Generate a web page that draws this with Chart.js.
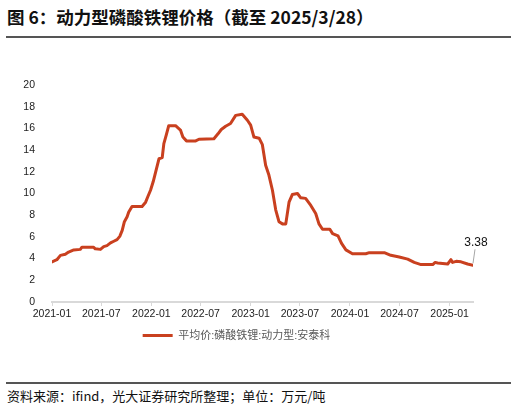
<!DOCTYPE html>
<html>
<head>
<meta charset="utf-8">
<script src="https://cdn.jsdelivr.net/npm/chart.js@4.4.1/dist/chart.umd.min.js"></script>
<style>
html, body { margin: 0; padding: 0; background: #fff; }
body { width: 516px; height: 406px; position: relative; overflow: hidden; font-family: "Noto Sans CJK SC", "Noto Sans", sans-serif; }
#title { position: absolute; left: 7px; top: 4px; font-size: 17.5px; font-weight: bold; color: #111; white-space: nowrap; }
.rule { position: absolute; left: 6px; width: 505px; height: 2px; background: #555; }
#foot { position: absolute; left: 7px; top: 386px; font-size: 13px; color: #111; white-space: nowrap; }
#wrap { position: absolute; left: 0; top: 0; width: 516px; height: 406px; }
</style>
</head>
<body>
<div id="title">图 6：动力型磷酸铁锂价格（截至 2025/3/28）</div>
<div class="rule" style="top:36px"></div>
<div class="rule" style="top:382px"></div>
<div id="foot">资料来源：ifind，光大证券研究所整理；单位：万元/吨</div>
<div id="wrap"><canvas id="lfp_price"></canvas></div>
<script>
/* dados: preco medio LFP (万元/吨) */
const seriesName = '平均价:磷酸铁锂:动力型:安泰科';
const dates = [
    '2021-01-01', '2021-01-19', '2021-02-01', '2021-02-19', '2021-03-03', '2021-03-22',
    '2021-04-15', '2021-04-21', '2021-06-03', '2021-06-09', '2021-06-28', '2021-07-10',
    '2021-07-22', '2021-08-04', '2021-08-16', '2021-08-28', '2021-09-07', '2021-09-16',
    '2021-09-24', '2021-10-04', '2021-10-10', '2021-10-22', '2021-11-28', '2021-12-11',
    '2021-12-19', '2021-12-29', '2022-01-08', '2022-01-14', '2022-01-20', '2022-01-29',
    '2022-02-10', '2022-02-16', '2022-02-25', '2022-03-06', '2022-03-31', '2022-04-18',
    '2022-04-27', '2022-05-10', '2022-06-13', '2022-06-25', '2022-08-19', '2022-09-03',
    '2022-09-15', '2022-10-01', '2022-10-19', '2022-11-07', '2022-12-01', '2022-12-20',
    '2023-01-01', '2023-01-13', '2023-02-01', '2023-02-13', '2023-02-25', '2023-03-09',
    '2023-03-22', '2023-04-03', '2023-04-15', '2023-04-28', '2023-05-10', '2023-05-22',
    '2023-06-03', '2023-06-22', '2023-07-04', '2023-07-22', '2023-08-10', '2023-08-28',
    '2023-09-09', '2023-09-22', '2023-10-19', '2023-10-29', '2023-11-18', '2023-12-01',
    '2023-12-17', '2024-01-10', '2024-02-28', '2024-03-12', '2024-05-06', '2024-05-30',
    '2024-06-30', '2024-07-31', '2024-08-24', '2024-09-18', '2024-10-31', '2024-11-09',
    '2024-11-18', '2024-12-25', '2025-01-06', '2025-01-12', '2025-01-25', '2025-02-12',
    '2025-03-08', '2025-03-28'
];
const prices = [
    3.7, 3.9, 4.3, 4.4, 4.6, 4.8,
    4.85, 5.05, 5.05, 4.9, 4.85, 5.1,
    5.2, 5.45, 5.6, 5.75, 6.05, 6.6,
    7.4, 7.85, 8.3, 8.8, 8.8, 9.2,
    9.7, 10.3, 11.1, 11.7, 12.3, 13.2,
    13.3, 14.6, 15.4, 16.25, 16.25, 15.85,
    15.2, 14.85, 14.85, 15.0, 15.05, 15.5,
    15.9, 16.2, 16.45, 17.2, 17.3, 16.75,
    16.3, 15.2, 15.1, 14.5, 12.6, 11.7,
    10.3, 8.5, 7.4, 7.2, 7.2, 9.2,
    9.9, 10.0, 9.6, 9.55, 8.9, 8.15,
    7.2, 6.7, 6.7, 6.3, 6.1, 5.4,
    4.8, 4.45, 4.45, 4.55, 4.55, 4.3,
    4.15, 3.95, 3.65, 3.45, 3.45, 3.65,
    3.6, 3.5, 3.9, 3.65, 3.75, 3.7,
    3.5, 3.38
];
const tickLabels = ['2021-01', '2021-07', '2022-01', '2022-07', '2023-01', '2023-07', '2024-01', '2024-07', '2025-01'];

const dia0 = Date.UTC(2021, 0, 1);
const emDias = s => Math.round((Date.parse(s + 'T00:00:00Z') - dia0) / 86400000);
const tickDias = tickLabels.map(t => emDias(t + '-01'));

const fonte = "'Liberation Sans', 'Noto Sans CJK SC', Arial, sans-serif";

/* rotulo do ultimo valor com linha guia */
const ultimoValor = {
    id: 'ultimoValor',
    afterDatasetsDraw(chart) {
        const pts = chart.getDatasetMeta(0).data;
        const p = pts[pts.length - 1];
        const ctx = chart.ctx;
        ctx.save();
        ctx.strokeStyle = '#a6a6a6';
        ctx.lineWidth = 1;
        ctx.beginPath();
        ctx.moveTo(p.x, p.y - 2);
        ctx.lineTo(p.x + 2, p.y - 16);
        ctx.stroke();
        ctx.fillStyle = '#111';
        ctx.font = '12px ' + fonte;
        ctx.textAlign = 'center';
        ctx.textBaseline = 'middle';
        ctx.fillText(prices[prices.length - 1].toFixed(2), p.x + 3, p.y - 23);
        ctx.restore();
    }
};

const lfp_config = {
    type: 'line',
    data: {
        datasets: [{
            label: seriesName,
            data: dates.map((d, i) => ({ x: emDias(d), y: prices[i] })),
            borderColor: '#c9401f',
            backgroundColor: '#c9401f',
            borderWidth: 3,
            pointRadius: 0,
            tension: 0,
            borderJoinStyle: 'round',
            borderCapStyle: 'round'
        }]
    },
    options: {
        responsive: false,
        animation: false,
        layout: { padding: { left: 0, right: 43, top: 85, bottom: 55 } },
        scales: {
            x: {
                type: 'linear',
                min: 0,
                max: emDias(dates[dates.length - 1]),
                afterBuildTicks: scale => { scale.ticks = tickDias.map(v => ({ value: v })); },
                afterFit: scale => { scale.height = 18; },
                grid: { drawOnChartArea: false, drawTicks: true, tickLength: 4, color: '#d9d9d9', lineWidth: 1 },
                border: { display: true, color: '#d9d9d9', width: 2 },
                ticks: {
                    autoSkip: false,
                    maxRotation: 0,
                    padding: 2,
                    color: '#222',
                    font: { size: 10.5, family: fonte },
                    callback: v => tickLabels[tickDias.indexOf(v)]
                }
            },
            y: {
                min: 0,
                max: 20,
                afterFit: scale => { scale.width = 52; },
                grid: { display: false },
                border: { display: false },
                ticks: {
                    stepSize: 2,
                    padding: 9,
                    color: '#222',
                    font: { size: 10.5, family: fonte }
                }
            }
        },
        plugins: {
            legend: {
                position: 'bottom',
                labels: {
                    boxWidth: 30,
                    boxHeight: 3,
                    padding: 10,
                    color: '#595959',
                    font: { size: 11, family: fonte },
                    generateLabels: chart => Chart.defaults.plugins.legend.labels.generateLabels(chart)
                        .map(l => Object.assign(l, { lineWidth: 0, fillStyle: '#c9401f' }))
                }
            },
            tooltip: { enabled: false }
        }
    },
    plugins: [ultimoValor]
};

const canvas = document.getElementById('lfp_price');
canvas.width = 516;
canvas.height = 406;
const lfp_chart = new Chart(canvas, lfp_config);
</script>
</body>
</html>
